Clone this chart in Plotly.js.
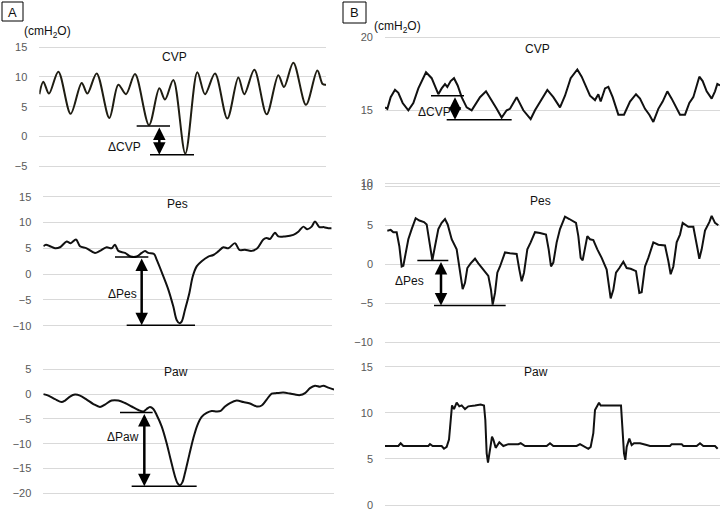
<!DOCTYPE html>
<html>
<head>
<meta charset="utf-8">
<script src="https://cdn.plot.ly/plotly-3.0.1.min.js"></script>
<style>html,body{margin:0;padding:0;background:#fff;}#chart{width:720px;height:509px;}</style>
</head>
<body>
<div id="chart"></div>
<script>
// ---------------- DATA (time in sample units, pressure in cmH2O) ----------------
// Panel A - CVP
const tCvpA = [118,130,147,175,212,245,262,290,328,355,378,405,447,478,495,520,556,592,615,645,682,715,733,763,800,835,852,880,918,952,968,978];
const cvpA  = [7.1,9.2,7.2,10.9,3.8,9.0,7.2,10.6,3.1,8.7,7.1,10.5,1.9,8.1,6.2,9.5,-2.9,10.8,7.1,10.6,3.0,9.9,7.1,11.2,3.7,10.3,8.3,12.4,5.3,11.1,8.8,8.7];
// Panel A - Pes
const tPesA = [130,138,150,165,180,200,212,228,240,260,285,300,320,335,345,355,375,392,410,425,435,445,462,470,488,505,520,530,538,545,555,568,578,590,605,625,640,655,670,685,705,718,735,755,772,790,800,810,825,835,855,880,895,910,922,935,945,958,972,985,995];
const pesA  = [5.4,5.7,5.4,5.0,5.2,6.3,6.0,6.7,5.4,5.0,4.1,4.5,5.2,5.0,5.7,4.5,4.1,3.4,3.4,4.1,4.5,4.1,3.9,2.8,-0.1,-3.0,-6.3,-8.9,-9.5,-9.2,-6.9,-3.7,-0.5,1.5,2.5,3.4,3.7,4.4,5.2,5.0,6.0,4.7,4.7,4.5,5.0,6.7,7.0,6.8,8.0,7.3,7.3,7.6,8.2,9.2,8.7,9.2,10.2,9.1,9.1,8.9,8.9];
// Panel A - Paw
const tPawA = [130,145,165,185,195,210,225,240,260,280,300,315,335,355,375,395,415,430,440,450,460,470,485,500,512,525,533,540,547,555,568,580,592,605,620,635,650,662,675,690,710,730,750,770,785,800,815,830,850,870,885,900,915,930,945,960,970,985,1002];
const pawA  = [0,-0.3,-1.0,-1.6,-1.3,-0.5,-0.1,-0.3,-1.1,-2.0,-2.6,-2.1,-1.3,-1.3,-1.8,-2.5,-3.2,-3.5,-3.0,-2.6,-3.0,-4.2,-6.5,-9.9,-13.2,-16.6,-18.0,-18.4,-17.8,-15.9,-12.2,-8.9,-6.3,-4.6,-3.8,-3.4,-3.5,-3.4,-2.5,-1.8,-1.3,-1.6,-1.9,-2.5,-2.3,-1.1,0.1,0.2,0.3,0.1,-0.1,-0.2,0.2,1.2,1.7,1.5,1.7,1.3,0.9];
// Panel B - CVP
const tCvpB = [75,82,92,105,115,128,145,160,175,198,215,235,245,255,262,272,282,293,305,320,335,345,360,378,392,410,425,440,450,470,490,512,525,540,562,580,600,615,632,652,665,690,705,715,722,735,745,758,775,792,810,828,840,855,868,880,895,908,922,935,950,960,975,988,1000,1018,1028,1040,1055,1065,1072,1080];
const cvpB  = [15.2,15.1,15.9,16.4,16.2,15.5,15.0,15.5,16.5,17.6,17.2,16.1,16.5,16.8,16.6,17.0,17.2,16.7,15.9,15.2,15.0,15.4,15.9,16.3,15.8,15.1,14.5,15.0,15.1,15.9,15.0,14.4,15.0,15.6,16.4,15.9,15.2,16.0,17.2,17.8,17.3,16.0,15.7,16.1,15.6,16.5,16.6,15.9,14.7,14.7,15.6,16.1,15.8,15.1,14.7,14.2,15.1,15.6,16.3,15.8,15.2,14.7,14.7,15.5,15.9,17.3,17.0,16.3,15.8,16.3,16.8,16.7];
// Panel B - Pes
const tPesB = [82,92,100,110,118,125,130,138,145,155,167,178,192,200,210,217,225,235,245,255,263,275,290,298,308,315,322,332,345,355,370,385,393,398,405,412,420,435,450,470,478,485,492,502,512,525,540,558,566,573,580,590,600,615,628,648,655,662,668,675,682,690,700,712,725,740,752,760,768,778,790,800,812,828,838,845,855,865,880,895,915,925,932,940,950,960,968,985,1000,1012,1018,1025,1035,1048,1055,1065,1075];
const pesB  = [4.3,4.4,4.1,4.1,2.3,-0.3,-0.2,1.7,3.2,4.5,5.9,5.6,5.4,5.1,2.3,0.5,2.3,4.5,5.3,5.8,5.1,3.2,1.9,-0.3,-3.2,-2.4,-0.5,0.1,0.7,0.1,-0.7,-1.5,-3.3,-5.2,-3.7,-1.1,-0.3,1.5,1.4,1.3,-0.7,-2.2,-1.1,1.9,2.8,4.1,4.0,3.8,1.9,-0.3,0.2,2.8,4.5,6.1,5.8,5.3,3.6,0.8,0.5,2.3,3.6,3.2,3.1,1.9,0.8,-0.7,-4.4,-3.3,-1.1,-0.5,0.3,-0.5,-0.6,-0.9,-3.7,-3.6,-0.3,0.8,2.8,2.5,2.4,0.4,-1.3,-0.3,2.8,3.8,5.3,4.8,4.8,2.1,0.7,1.9,4.3,5.4,6.2,5.3,5.0];
// Panel B - Paw
const tPawB = [72,115,122,130,205,210,218,245,252,260,267,272,276,282,290,298,305,315,325,345,362,372,376,380,384,390,396,400,407,418,430,445,475,482,495,560,570,580,650,660,670,685,692,700,705,710,717,722,760,783,787,792,796,800,808,815,822,840,860,870,930,935,965,970,1010,1020,1030,1065,1073];
const pawB  = [6.4,6.4,6.7,6.4,6.4,6.6,6.4,6.4,6.1,6.3,7.1,8.9,10.8,10.4,11.1,10.7,10.8,10.4,10.7,10.8,10.9,10.8,9.2,5.6,4.6,6.0,7.4,7.1,6.2,6.8,6.4,6.6,6.6,6.7,6.4,6.4,6.7,6.4,6.4,6.6,6.4,6.1,6.3,7.8,10.3,10.7,11.1,10.8,10.8,10.8,8.5,5.6,4.9,6.3,7.2,6.5,6.7,6.7,6.5,6.4,6.4,6.6,6.6,6.4,6.4,6.7,6.4,6.4,6.1];

// Delta measurements: [x start, x end, level] for upper & lower reference, arrow at time
const dCvpA = {upper:[410,510,1.74], lower:[450,582,-3.1], arrowT:478, label:[372,-1.75]};
const dPesA = {upper:[345,445,3.3],  lower:[380,585,-9.9], arrowT:425, label:[368,-3.8]};
const dPawA = {upper:[360,458,-3.7], lower:[395,590,-18.6], arrowT:433, label:[370,-8.7]};
const dCvpB = {upper:[213,312,16.0], lower:[260,455,14.35], arrowT:285, label:[222,14.88]};
const dPesB = {upper:[172,265,0.47], lower:[222,437,-5.3], arrowT:243, label:[148,-2.1]};

const panelTitles = ['CVP','Pes','Paw','CVP','Pes','Paw'];
const deltaLabels = ['ΔCVP','ΔPes','ΔPaw','ΔCVP','ΔPes'];

// ---------------- LAYOUT HELPERS ----------------
const W = 720, H = 509;
function yAx(pxTop, vTop, pxBot, vBot, pad) {
  const k = (vTop - vBot) / (pxBot - pxTop);
  return {domain: [1 - (pxBot + pad) / H, 1 - (pxTop - pad) / H], range: [vBot - pad * k, vTop + pad * k]};
}
function xAx(pxL, tL, pxR, tR) {
  return {domain: [pxL / W, pxR / W], range: [tL, tR]};
}
const tickFont = {family: 'Liberation Sans, Arial, sans-serif', size: 11, color: '#595959'};
function mkY(spec, anchor) {
  return {domain: spec.domain, range: spec.range, anchor: anchor, tickmode: 'linear', tick0: 0, dtick: 5,
    showgrid: true, gridcolor: '#d9d9d9', gridwidth: 1, zeroline: false, showline: false,
    ticks: '', ticklabelstandoff: 11, ticklabeloverflow: 'allow', tickfont: tickFont, fixedrange: true};
}
function mkX(spec, anchor) {
  return {domain: spec.domain, range: spec.range, anchor: anchor, visible: false, showgrid: false, zeroline: false, fixedrange: true};
}

const layout = {
  width: W, height: H, margin: {l: 0, r: 0, t: 0, b: 0}, showlegend: false,
  paper_bgcolor: '#fff', plot_bgcolor: 'rgba(0,0,0,0)',
  font: {family: 'Liberation Sans, Arial, sans-serif', color: '#000'},
  xaxis:  mkX(xAx(39.33, 118, 326, 978), 'y'),
  xaxis2: mkX(xAx(43.33, 130, 331.67, 995), 'y2'),
  xaxis3: mkX(xAx(43.33, 130, 334, 1002), 'y3'),
  xaxis4: mkX(xAx(385, 75, 720, 1080), 'y4'),
  xaxis5: mkX(xAx(385, 75, 720, 1080), 'y5'),
  xaxis6: mkX(xAx(385, 75, 720, 1080), 'y6'),
  yaxis:  mkY(yAx(47.3, 15, 166, -5, 2), 'x'),
  yaxis2: mkY(yAx(196.7, 15, 325.7, -10, 2), 'x2'),
  yaxis3: mkY(yAx(369.3, 5, 493.3, -20, 2), 'x3'),
  yaxis4: mkY(yAx(37.3, 20, 183.3, 10, 2), 'x4'),
  yaxis5: mkY(yAx(186.3, 10, 342, -10, 2), 'x5'),
  yaxis6: mkY(yAx(366.7, 15, 505, 0, 2), 'x6'),
  shapes: [], annotations: []
};

// Panel letters boxes
layout.shapes.push({type: 'rect', xref: 'paper', yref: 'paper', x0: 2/W, x1: 23/W, y0: 1-21/H, y1: 1-2/H, line: {color: '#000', width: 1}});
layout.shapes.push({type: 'rect', xref: 'paper', yref: 'paper', x0: 343/W, x1: 366/W, y0: 1-23/H, y1: 1-2/H, line: {color: '#000', width: 1}});
const txtFont = {family: 'Liberation Sans, Arial, sans-serif', size: 12, color: '#111'};
layout.annotations.push({xref: 'paper', yref: 'paper', x: 12.5/W, y: 1-12/H, text: 'A', showarrow: false, font: {family: txtFont.family, size: 13, color: '#111'}, xanchor: 'center', yanchor: 'middle'});
layout.annotations.push({xref: 'paper', yref: 'paper', x: 354.5/W, y: 1-12.5/H, text: 'B', showarrow: false, font: {family: txtFont.family, size: 13, color: '#111'}, xanchor: 'center', yanchor: 'middle'});
layout.annotations.push({xref: 'paper', yref: 'paper', x: 47.5/W, y: 1-32/H, text: '(cmH<sub>2</sub>O)', showarrow: false, font: txtFont, xanchor: 'center', yanchor: 'middle'});
layout.annotations.push({xref: 'paper', yref: 'paper', x: 397/W, y: 1-27/H, text: '(cmH<sub>2</sub>O)', showarrow: false, font: txtFont, xanchor: 'center', yanchor: 'middle'});

// Panel titles
const titlePos = [[174,56.7],[177,204.3],[176,372.3],[537.5,49.3],[540,201],[536,372.3]];
panelTitles.forEach((t, i) => {
  layout.annotations.push({xref: 'paper', yref: 'paper', x: titlePos[i][0]/W, y: 1-titlePos[i][1]/H, text: t, showarrow: false, font: txtFont, xanchor: 'center', yanchor: 'middle'});
});

// Delta measurement marks
const deltas = [dCvpA, dPesA, dPawA, dCvpB, dPesB];
const axIds = ['', '2', '3', '4', '5'];
deltas.forEach((d, i) => {
  const xr = 'x' + axIds[i], yr = 'y' + axIds[i];
  [d.upper, d.lower].forEach(seg => {
    layout.shapes.push({type: 'line', xref: xr, yref: yr, x0: seg[0], x1: seg[1], y0: seg[2], y1: seg[2], line: {color: '#000', width: 1.5}});
  });
  layout.annotations.push({xref: xr, yref: yr, axref: xr, ayref: yr, x: d.arrowT, y: d.lower[2], ax: d.arrowT, ay: d.upper[2],
    text: '', showarrow: true, arrowhead: 2, arrowside: 'end+start', arrowsize: 1, arrowwidth: 2.5, arrowcolor: '#000', standoff: 0, startstandoff: 0});
  layout.annotations.push({xref: xr, yref: yr, x: d.label[0], y: d.label[1], text: deltaLabels[i], showarrow: false, font: txtFont, xanchor: 'center', yanchor: 'middle'});
});

// ---------------- TRACES ----------------
function tr(x, y, ax, shape, color) {
  const id = ax === '1' ? '' : ax;
  return {x: x, y: y, xaxis: 'x' + id, yaxis: 'y' + id, type: 'scatter', mode: 'lines',
    line: {color: color || '#111', width: 2, shape: shape, smoothing: shape === 'spline' ? 0.9 : undefined}, hoverinfo: 'skip'};
}
const data = [
  tr(tCvpA, cvpA, '1', 'spline', '#1f1d12'),
  tr(tPesA, pesA, '2', 'spline'),
  tr(tPawA, pawA, '3', 'spline'),
  tr(tCvpB, cvpB, '4', 'linear'),
  tr(tPesB, pesB, '5', 'linear'),
  tr(tPawB, pawB, '6', 'linear')
];

Plotly.newPlot('chart', data, layout, {staticPlot: true, displayModeBar: false});
</script>
</body>
</html>
